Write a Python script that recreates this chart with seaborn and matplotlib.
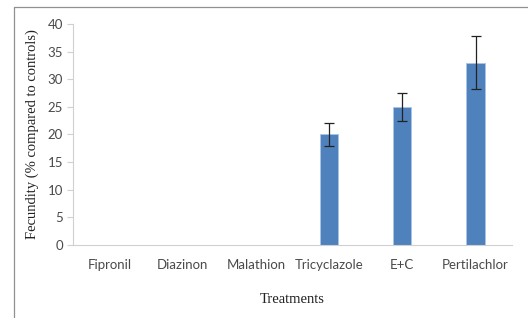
import numpy as np
import pandas as pd
import seaborn as sns
from matplotlib import pyplot as plt
from matplotlib.lines import Line2D

treatments = ["Fipronil", "Diazinon", "Malathion", "Tricyclazole", "E+C", "Pertilachlor"]
fecundity = [0, 0, 0, 20, 25, 33]
fecundity_err = [np.nan, np.nan, np.nan, 2.0, 2.5, 4.8]
y_ticks = [0, 5, 10, 15, 20, 25, 30, 35, 40]

df = pd.DataFrame({"Treatment": treatments, "Fecundity": fecundity})

sns.set_style("white")
plt.rcParams["font.family"] = ["Lato", "DejaVu Sans"]

fig = plt.figure(figsize=(5.28, 3.18), dpi=100)
ax = fig.add_axes([0.138, 0.2296, 0.832, 0.695])

sns.barplot(data=df, x="Treatment", y="Fecundity", color="#4f81bd",
            width=0.25, errorbar=None, edgecolor="#a9c4e8", linewidth=0.6,
            saturation=1, ax=ax)

# error bars on top of the bars
xs = np.arange(len(treatments))
ax.errorbar(xs, fecundity, yerr=fecundity_err, fmt="none", ecolor="#222222",
            elinewidth=0.9, capsize=3.5, capthick=0.9)

ax.set_xlim(-0.5, len(treatments) - 0.5)
ax.set_ylim(0, 40)
ax.set_yticks(y_ticks)

for s in ["top", "right"]:
    ax.spines[s].set_visible(False)
ax.spines["left"].set_color("#d0d0d0")
ax.spines["bottom"].set_color("#d0d0d0")
ax.spines["left"].set_linewidth(0.8)
ax.spines["bottom"].set_linewidth(0.8)

ax.tick_params(axis="y", direction="out", length=4, width=0.8, color="#d0d0d0",
               labelsize=9.5, labelcolor="#4a4a4a", pad=3, left=True)
ax.tick_params(axis="x", length=0, labelsize=9.5, labelcolor="#4a4a4a", pad=10)

ax.set_xlabel("Treatments", family="Liberation Serif", fontsize=10.5, color="#222222", labelpad=16)
ax.set_ylabel("Fecundity (% compared to controls)", family="Liberation Serif",
              fontsize=10.5, color="#222222", labelpad=6)

# outer frame of the original figure (cropped on the right and bottom)
fig.add_artist(Line2D([13.5 / 528, 13.5 / 528], [0, 1 - 7 / 318],
                      transform=fig.transFigure, color="#909090", lw=0.9))
fig.add_artist(Line2D([13.5 / 528, 1], [1 - 7 / 318, 1 - 7 / 318],
                      transform=fig.transFigure, color="#909090", lw=0.9))

fig.savefig("out.png", dpi=100)
